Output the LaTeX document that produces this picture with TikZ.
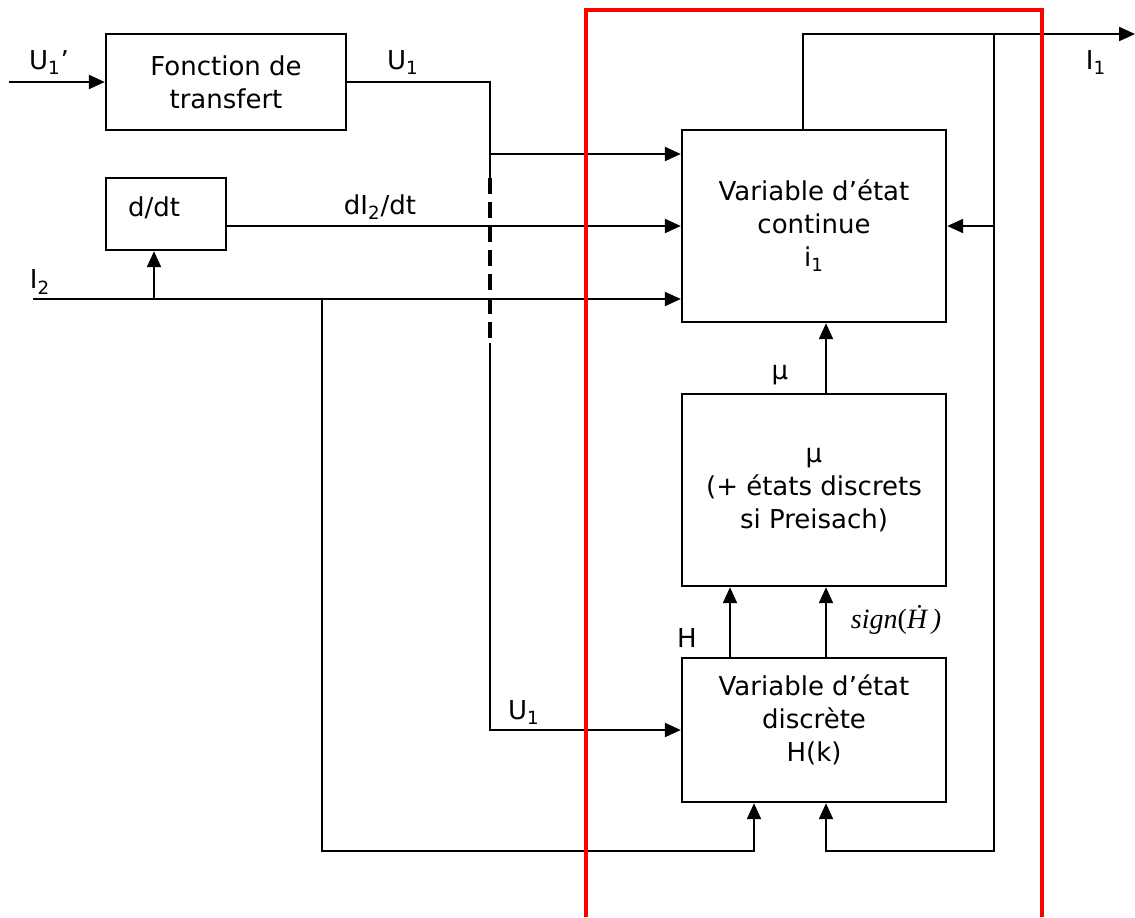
\documentclass[tikz,border=0pt]{standalone}
\usepackage{fontspec}
\setmainfont{DejaVu Sans}
\newfontfamily\timesfont{Liberation Serif}
\usetikzlibrary{arrows.meta}
\newcommand{\indice}[1]{\textsubscript{#1}}

\begin{document}
\begin{tikzpicture}[x=0.5pt,y=-0.5pt,
  every node/.style={font=\fontsize{13}{16.5}\selectfont,align=center},
  bloc/.style={draw,line width=1.2pt,inner sep=0pt},
  fleche/.style={line width=1.1pt,-{Triangle[length=8pt,width=7pt]}},
  trait/.style={line width=1.1pt},
  cadre/.style={draw=red,line width=1.6pt}]
  \useasboundingbox (0,0) rectangle (1135,917);

  % Blocs
  \node[bloc,minimum width=120pt,minimum height=48pt] (ft) at (226,82) {Fonction de\\transfert};
  \node[bloc,minimum width=60pt,minimum height=36pt] (ddt) at (166,214) {};
  \node (ddt-t) at (154,208) {d/dt};
  \node[bloc,minimum width=132pt,minimum height=96pt] (cont) at (814,226) {Variable d’état\\continue\\i\indice{1}};
  \node[bloc,minimum width=132pt,minimum height=96pt] (mu) at (814,490) {μ\\(+ états discrets\\si Preisach)};
  \node[bloc,minimum width=132pt,minimum height=72pt] (dsc) at (814,730) {};
  \node (dsc-t) at (814,720) {Variable d’état\\discrète\\H(k)};

  % Etiquettes
  \node (l-u1p) at (49,63) {U\indice{1}’};
  \node (l-u1) at (403,63) {U\indice{1}};
  \node (l-di2) at (380,207) {dI\indice{2}/dt};
  \node (l-i2) at (40,282) {I\indice{2}};
  \node (l-i1) at (1096,63) {I\indice{1}};
  \node (l-mu) at (780,375) {μ};
  \node (l-h) at (687,638) {H};
  \node (l-u1b) at (524,713) {U\indice{1}};
  \node[font=\timesfont\fontsize{14}{16}\selectfont] (l-sign) at (896,620) {{\itshape sign}(\.{\itshape H}\,)};

  % Points
  \coordinate (e-u1p) at (9,82);
  \coordinate (e-i2) at (33,299);
  \coordinate (s-i1) at (1135,34);
  \coordinate (n-u1) at (490,154);
  \coordinate (p-a) at (490,178);
  \coordinate (p-b) at (490,343);
  \coordinate (n-ddt) at (154,299);
  \coordinate (n-i2) at (322,299);
  \coordinate (n-i1) at (803,34);
  \coordinate (n-ret) at (994,34);
  \coordinate (c-a) at (754,851);
  \coordinate (c-b) at (826,851);

  % Liaisons
  \draw[fleche] (e-u1p) -- (ft.west);
  \draw[trait] (ft.east) -| (p-a);
  \draw[fleche] (n-u1) -- (n-u1 -| cont.west);
  \draw[line width=1.6pt,dash pattern=on 8pt off 4pt] (p-a) -- (p-b);
  \draw[fleche] (p-b) |- (dsc.west);
  \draw[fleche] (ddt.east |- cont.west) -- (cont.west);
  \draw[fleche] (e-i2) -- (e-i2 -| cont.west);
  \draw[fleche] (n-ddt) -- (n-ddt |- ddt.south);
  \draw[fleche] (n-i2) |- (c-a) -- (c-a |- dsc.south);
  \draw[fleche] (cont.north -| n-i1) -- (n-i1) -- (s-i1);
  \draw[fleche] (n-ret) |- (c-b) -- (c-b |- dsc.south);
  \draw[fleche] (n-ret |- cont.east) -- (cont.east);
  \draw[fleche] (mu.north -| c-b) -- (cont.south -| c-b);
  \draw[fleche] (dsc.north -| c-b) -- (mu.south -| c-b);
  \draw[fleche] ([xshift=-42pt]dsc.north) -- ([xshift=-42pt]mu.south);

  % Cadre rouge
  \draw[cadre] (586,917) |- (1042,10) -- (1042,917);
\end{tikzpicture}
\end{document}
